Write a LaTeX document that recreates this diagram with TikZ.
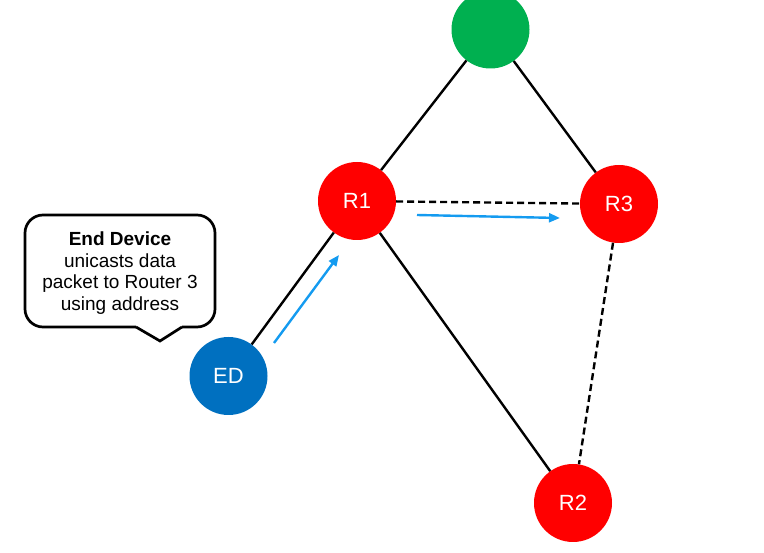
\documentclass[tikz,border=0pt]{standalone}
\usepackage{fontspec}
\setmainfont{Liberation Sans}
\usetikzlibrary{arrows.meta}
\definecolor{rred}{RGB}{255,0,0}
\definecolor{ggreen}{RGB}{0,176,80}
\definecolor{bblue}{RGB}{0,112,192}
\definecolor{arrowblue}{RGB}{20,155,240}
\tikzset{
  dev/.style={circle, minimum size=78pt, inner sep=0pt, text=white, font=\fontsize{22}{22}\selectfont},
  link/.style={line width=2.4pt, black},
  dlink/.style={line width=2.4pt, black, dash pattern=on 7pt off 4pt},
  msg/.style={line width=2.4pt, arrowblue, -{Triangle[length=11pt,width=9pt]}},
}
\begin{document}
\begin{tikzpicture}[x=1pt,y=-1pt]
\useasboundingbox (0,0) rectangle (764,553);
\node[dev, fill=ggreen] (G) at (490.5,29.5) {};
\node[dev, fill=rred] (R1) at (357,201) {R1};
\node[dev, fill=rred] (R3) at (619,204) {R3};
\node[dev, fill=rred] (R2) at (573,503) {R2};
\node[dev, fill=bblue] (ED) at (228.5,376) {ED};
\draw[link] (G) -- (R1);
\draw[link] (G) -- (R3);
\draw[link] (R1) -- (ED);
\draw[link] (R1) -- (R2);
\draw[dlink] (R1) -- (R3);
\draw[dlink] (R3) -- (R2);
\coordinate (a1s) at (274,343);
\coordinate (a1e) at (339,255);
\coordinate (a2s) at (417,215);
\coordinate (a2e) at (560,218);
\draw[msg] (a1s) -- (a1e);
\draw[msg] (a2s) -- (a2e);
\draw[line width=2.7pt, rounded corners=18pt, fill=white]
  (136,327) -- (25,327) -- (25,215) -- (215,215) -- (215,327) -- (182,327);
\draw[line width=2.7pt, line join=miter] (136,327) -- (160,341) -- (182,327);
\node[align=center, font=\fontsize{19}{21.7}\selectfont] (txt) at (120,273)
  {\textbf{End Device}\\unicasts data\\packet to Router 3\\using address};
\end{tikzpicture}
\end{document}
